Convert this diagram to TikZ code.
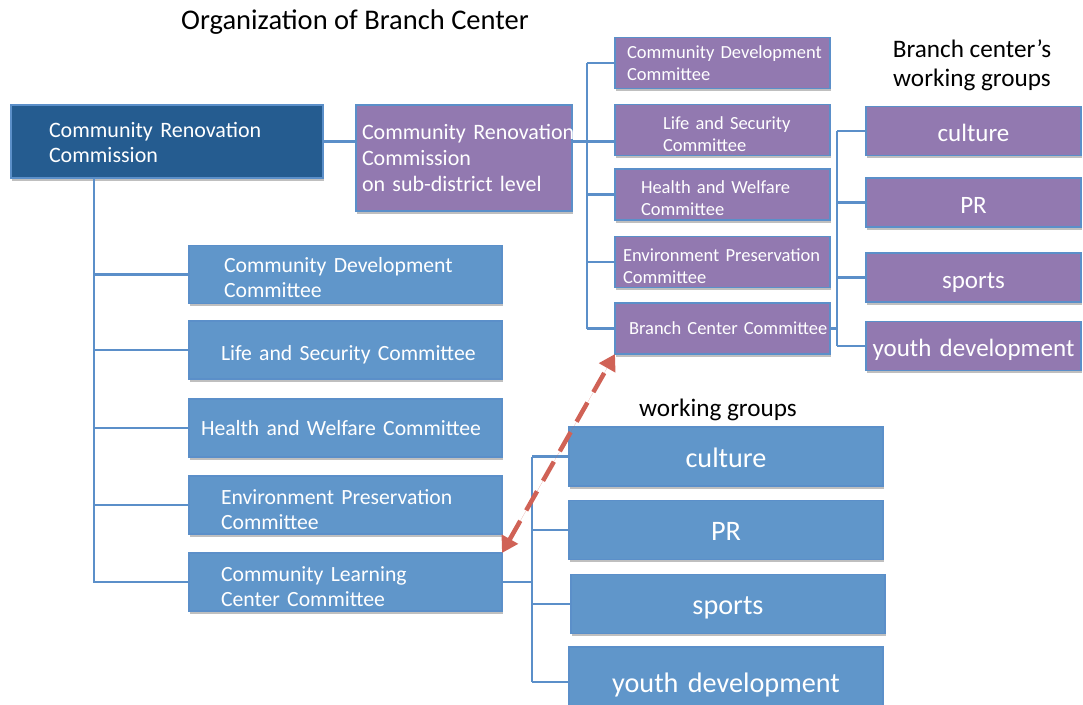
\documentclass[tikz,border=0pt]{standalone}
\usepackage{fontspec}
\setmainfont{Carlito}
\usepackage{xcolor}
\usetikzlibrary{arrows.meta,positioning,shadows}

\definecolor{darkblue}{HTML}{255C90}
\definecolor{boxblue}{HTML}{6096CA}
\definecolor{boxpurple}{HTML}{9279B0}
\definecolor{edgeblue}{HTML}{5B8FC9}
\definecolor{arrowred}{HTML}{D06256}

\begin{document}
\begin{tikzpicture}[
  x=1pt, y=-1pt, >=Stealth,
  box/.style={draw=edgeblue, line width=1.6pt, inner sep=0pt, outer sep=0pt, text=white, align=left,
    drop shadow={shadow xshift=0.8pt, shadow yshift=-2.5pt, opacity=0.25, fill=black}},
  lpad/.style={execute at begin node={\leftskip=#1\relax\rightskip=-60pt plus 1fil\relax}},
  sink/.style={text height=#1},
  topbox/.style={box, fill=darkblue, text width=312pt, minimum height=73pt, font=\fontsize{22}{25}\selectfont},
  subbox/.style={box, fill=boxpurple, text width=216pt, minimum height=106pt, font=\fontsize{22}{26}\selectfont},
  combox/.style={box, fill=boxpurple, text width=215pt, minimum height=51pt, font=\fontsize{18.5}{22}\selectfont},
  bcgroup/.style={box, fill=boxpurple, align=center, text width=215pt, minimum height=49pt, text height=26pt, text depth=5pt, font=\fontsize{25}{28}\selectfont},
  commbox/.style={box, fill=boxblue, text width=313pt, minimum height=58pt, font=\fontsize{21.7}{25}\selectfont},
  wgroup/.style={box, fill=boxblue, align=center, text width=314pt, minimum height=59pt, text height=26.5pt, text depth=5.5pt, font=\fontsize{28.2}{30}\selectfont},
  heading/.style={align=center, font=\fontsize{25.2}{29}\selectfont},
  link/.style={draw=edgeblue, line width=2.8pt},
  dasharrow/.style={{Triangle[length=16pt,width=18pt]}-{Triangle[length=16pt,width=18pt]}, draw=arrowred, fill=arrowred, line width=4.5pt, dash pattern=on 22pt off 12pt}
]
\useasboundingbox (0,0) rectangle (1083,704);

\node[heading, font=\fontsize{28.5}{29}\selectfont] (title) at (355,22) {Organization of Branch Center};

\node[topbox, lpad=38pt, sink=18pt] (crc) at (167,141.5) {Community Renovation\\Commission};
\node[subbox, lpad=6pt] (sub) at (464,158) {Community Renovation\\Commission\\on sub-district level};

\node[combox, lpad=12pt] (bcdc) at (722.5,63) {Community Development\\Committee};
\node[combox, lpad=48pt, sink=21pt, below=16pt of bcdc] (blsc) {Life and Security\\Committee};
\node[combox, lpad=26pt, sink=20pt, below=13.5pt of blsc] (bhwc) {Health and Welfare\\Committee};
\node[combox, lpad=8pt, sink=21pt, below=16.5pt of bhwc] (bepc) {Environment Preservation\\Committee};
\node[combox, lpad=14pt, below=15.5pt of bepc] (bcc) {Branch Center Committee};

\node[heading] (bclabel) at (972,65.5) {Branch center’s\\working groups};
\node[bcgroup] (bcculture) at (973.5,131) {culture};
\node[bcgroup, below=22.5pt of bcculture] (bcpr) {PR};
\node[bcgroup, below=26pt of bcpr] (bcsports) {sports};
\node[bcgroup, below=19.5pt of bcsports] (bcyouth) {youth development};

\node[commbox, lpad=35pt, sink=22pt] (cdc) at (345.5,274.5) {Community Development\\Committee};
\node[commbox, lpad=32pt, sink=25pt, below=17.5pt of cdc] (lsc) {Life and Security Committee};
\node[commbox, lpad=12pt, below=20pt of lsc] (hwc) {Health and Welfare Committee};
\node[commbox, lpad=32pt, sink=25pt, below=19pt of hwc] (epc) {Environment Preservation\\Committee};
\node[commbox, lpad=32pt, sink=25pt, below=19pt of epc] (clc) {Community Learning\\Center Committee};

\node[heading] (wglabel) at (718,410) {working groups};
\node[wgroup] (culture) at (726,456.5) {culture};
\node[wgroup, below=14.5pt of culture] (pr) {PR};
\node[wgroup, below=15pt of pr, xshift=2pt] (sports) {sports};
\node[wgroup, below=13.5pt of sports, xshift=-2pt, minimum height=70pt] (youth) {youth development};

\coordinate (lbus) at (94,0);
\coordinate (bbus) at (587,0);
\coordinate (gbus) at (837,0);
\coordinate (wbus) at (532,0);

\draw[link] (crc.south -| lbus) -- (lbus |- clc.west) -- (clc.west);
\draw[link] (lbus |- cdc.west) -- (cdc.west);
\draw[link] (lbus |- lsc.west) -- (lsc.west);
\draw[link] (lbus |- hwc.west) -- (hwc.west);
\draw[link] (lbus |- epc.west) -- (epc.west);

\draw[link] (crc.east) -- (crc.east -| sub.west);
\draw[link] (sub.east |- crc.east) -- (blsc.west |- crc.east);
\draw[link] (bbus |- bcdc.west) -- (bbus |- bcc.west);
\draw[link] (bbus |- bcdc.west) -- (bcdc.west);
\draw[link] (bbus |- bhwc.west) -- (bhwc.west);
\draw[link] (bbus |- bepc.west) -- (bepc.west);
\draw[link] (bbus |- bcc.west) -- (bcc.west);

\draw[link] (gbus |- bcculture.west) -- (gbus |- bcyouth.west);
\draw[link] (bcc.east) -- (gbus |- bcc.east);
\draw[link] (gbus |- bcculture.west) -- (bcculture.west);
\draw[link] (gbus |- bcpr.west) -- (bcpr.west);
\draw[link] (gbus |- bcsports.west) -- (bcsports.west);
\draw[link] (gbus |- bcyouth.west) -- (bcyouth.west);

\draw[link] (wbus |- culture.west) -- (wbus |- youth.west);
\draw[link] (clc.east) -- (wbus |- clc.east);
\draw[link] (wbus |- culture.west) -- (culture.west);
\draw[link] (wbus |- pr.west) -- (pr.west);
\draw[link] (wbus |- sports.west) -- (sports.west);
\draw[link] (wbus |- youth.west) -- (youth.west);

\draw[dasharrow] (clc.north east) -- (bcc.south west);

\end{tikzpicture}
\end{document}
